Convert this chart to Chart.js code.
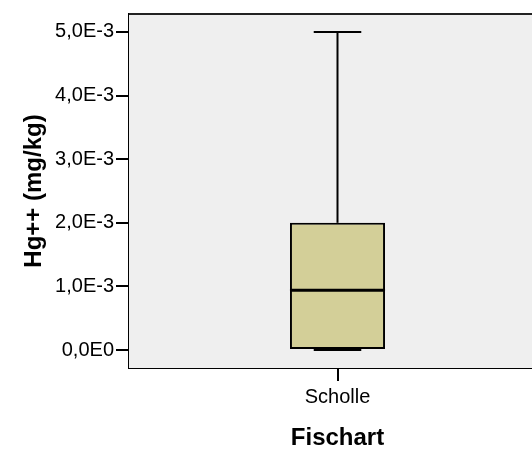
<!DOCTYPE html>
<html>
<head>
<meta charset="utf-8">
<script src="https://cdn.jsdelivr.net/npm/chart.js@4"></script>
<style>
  html, body { margin: 0; padding: 0; overflow: hidden; background: #fff; }
  #wrap { width: 546px; height: 455px; }
</style>
</head>
<body>
<div id="wrap"><canvas id="grafico"></canvas></div>
<script>
// Boxplot Hg++ por espécie (Fischart)
const categorias = ['Scholle'];
const minimo = [0];
const q1 = [0];
const mediana = [0.00094];
const q3 = [0.002];
const maximo = [0.005];

const yTickValores = [0, 0.001, 0.002, 0.003, 0.004, 0.005];
const yTickLabels = ['0,0E0', '1,0E-3', '2,0E-3', '3,0E-3', '4,0E-3', '5,0E-3'];

// fundo cinza + borda superior da área do gráfico
const fundo = {
  id: 'fundo',
  beforeDatasetsDraw(chart) {
    const { ctx, chartArea: a } = chart;
    ctx.save();
    ctx.fillStyle = '#efefef';
    ctx.fillRect(a.left, a.top, a.right - a.left, a.bottom - a.top);
    ctx.strokeStyle = '#222';
    ctx.lineWidth = 2;
    ctx.beginPath();
    ctx.moveTo(a.left, a.top);
    ctx.lineTo(a.right, a.top);
    ctx.stroke();
    ctx.restore();

    // whiskers (atrás da caixa)
    const x = chart.scales.x, y = chart.scales.y;
    ctx.save();
    ctx.strokeStyle = '#000';
    ctx.lineWidth = 2;
    categorias.forEach((c, i) => {
      const px = x.getPixelForValue(i);
      ctx.beginPath();
      ctx.moveTo(px, y.getPixelForValue(q3[i]));
      ctx.lineTo(px, y.getPixelForValue(maximo[i]));
      ctx.moveTo(px, y.getPixelForValue(q1[i]));
      ctx.lineTo(px, y.getPixelForValue(minimo[i]));
      ctx.stroke();
    });
    ctx.restore();
  },
  afterDatasetsDraw(chart) {
    const { ctx } = chart;
    const x = chart.scales.x, y = chart.scales.y;
    const meta = chart.getDatasetMeta(0);
    ctx.save();
    ctx.strokeStyle = '#000';
    categorias.forEach((c, i) => {
      const px = x.getPixelForValue(i);
      const w = meta.data[i].width;
      const cap = w / 4;
      // hastes
      ctx.lineWidth = 2;
      ctx.beginPath();
      ctx.moveTo(px - cap, y.getPixelForValue(maximo[i]));
      ctx.lineTo(px + cap, y.getPixelForValue(maximo[i]));
      ctx.moveTo(px - cap, y.getPixelForValue(minimo[i]));
      ctx.lineTo(px + cap, y.getPixelForValue(minimo[i]));
      ctx.stroke();
      // mediana
      ctx.lineWidth = 3;
      ctx.beginPath();
      ctx.moveTo(px - w / 2, y.getPixelForValue(mediana[i]));
      ctx.lineTo(px + w / 2, y.getPixelForValue(mediana[i]));
      ctx.stroke();
    });
    ctx.restore();
  }
};

new Chart(document.getElementById('grafico'), {
  type: 'bar',
  data: {
    labels: categorias,
    datasets: [{
      data: categorias.map((c, i) => [q1[i], q3[i]]),
      backgroundColor: '#d3cf98',
      borderColor: '#000',
      borderWidth: 2,
      borderSkipped: false,
      barPercentage: 0.228,
      categoryPercentage: 1
    }]
  },
  options: {
    responsive: true,
    maintainAspectRatio: false,
    animation: false,
    layout: { padding: { top: 12, left: 0, right: 0, bottom: 0 } },
    plugins: { legend: { display: false }, tooltip: { enabled: false } },
    scales: {
      x: {
        afterFit: s => { s.height = 87; },
        grid: { display: true, drawOnChartArea: false, offset: false, color: '#000', lineWidth: 2, tickLength: 13 },
        border: { display: true, color: '#000', width: 2 },
        ticks: { color: '#000', padding: 4, font: { family: 'Liberation Sans, Arial', size: 20 } },
        title: {
          display: true, text: 'Fischart', color: '#000',
          font: { family: 'Liberation Sans, Arial', size: 24, weight: 'bold' },
          padding: { top: 0, bottom: 2 }
        }
      },
      y: {
        min: -0.00028125,
        max: 0.00528125,
        afterFit: s => { s.width = 129; },
        afterBuildTicks: s => { s.ticks = yTickValores.map(v => ({ value: v })); },
        grid: { display: true, drawOnChartArea: false, color: '#000', lineWidth: 2, tickLength: 13 },
        border: { display: true, color: '#000', width: 2 },
        ticks: {
          color: '#000', padding: 2,
          font: { family: 'Liberation Sans, Arial', size: 20 },
          callback: (v, i) => yTickLabels[i]
        },
        title: {
          display: true, text: 'Hg++ (mg/kg)', color: '#000',
          font: { family: 'Liberation Sans, Arial', size: 24, weight: 'bold' },
          padding: { top: 20, bottom: 0 }
        }
      }
    }
  },
  plugins: [fundo]
});
</script>
</body>
</html>
